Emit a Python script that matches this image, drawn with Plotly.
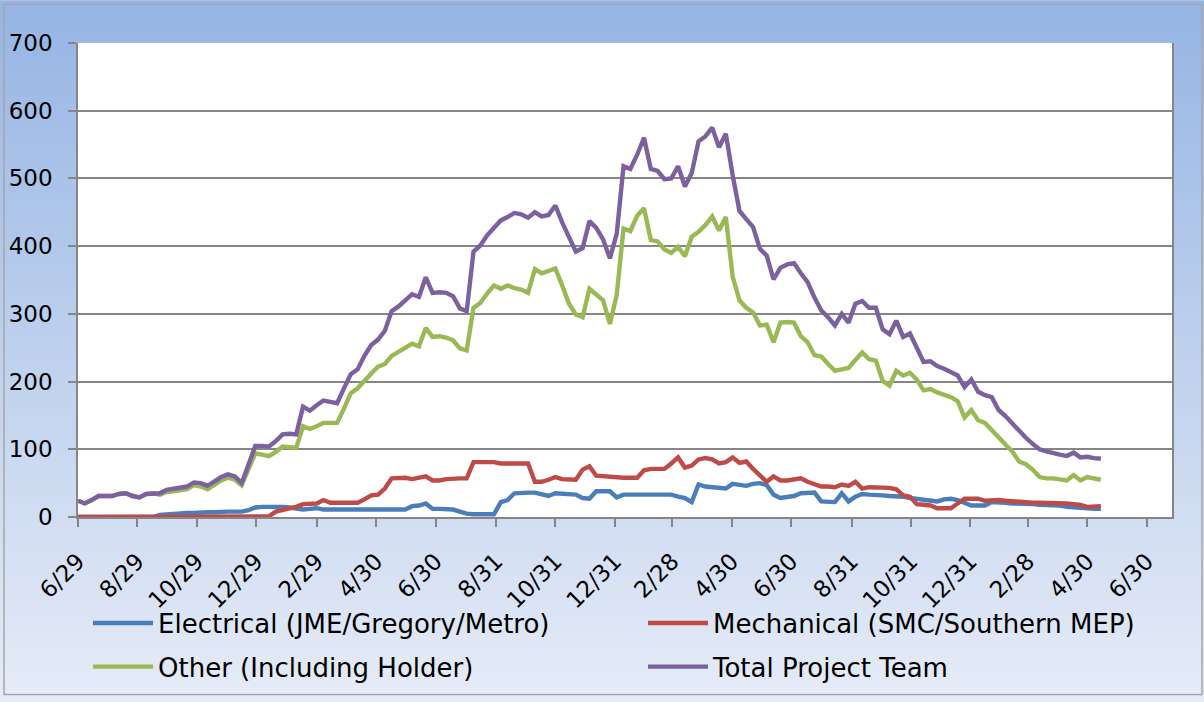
import plotly.graph_objects as go
import pandas as pd

# ---------------- data ----------------
start_date = "2011-06-29"
n_weeks = 151
weeks = pd.date_range(start_date, periods=n_weeks, freq="7D")

electrical = [0,0,0,0,0,0,0,0,0,0,0,0,3,4,5,5,6,6,7,7,
              7,8,8,8,8,10,14,15,15,16,15,14,12,11,12,13,11,11,11,11,
              11,11,11,11,11,11,11,11,11,16,17,20,12,12,11,11,8,5,4,4,
              4,4,22,25,35,36,36,36,33,31,35,34,33,33,28,27,38,38,38,29,
              33,33,33,33,33,33,33,33,30,28,22,48,45,44,43,42,49,48,46,49,
              50,47,33,28,29,31,35,36,36,23,22,22,35,23,30,34,33,33,32,31,
              31,30,28,27,26,25,23,26,27,25,21,17,17,17,22,22,21,20,20,19,
              19,18,18,17,17,15,14,13,12,12,12]

mechanical = [0,0,0,0,0,0,0,0,0,0,0,0,0,0,0,0,0,0,0,0,
              0,0,0,0,0,0,0,0,1,8,10,13,15,19,19,20,25,21,21,21,
              21,21,26,32,33,42,57,58,58,56,58,60,54,54,56,57,57,57,81,81,
              81,81,79,79,79,79,79,52,52,55,59,56,55,55,70,75,61,60,60,58,
              58,58,58,69,71,71,71,79,88,73,76,85,87,85,79,81,88,80,82,71,
              61,52,60,54,54,55,57,52,48,45,45,44,48,46,52,42,44,44,44,43,
              41,32,30,19,18,17,13,13,13,20,27,27,27,24,25,25,24,23,22,22,
              21,21,21,21,20,20,19,18,15,15,16]

other = [24,20,25,31,31,31,34,35,31,29,34,35,33,37,38,39,41,47,45,41,
         47,54,58,55,47,72,94,92,90,96,104,103,102,134,130,134,139,139,139,160,
         183,190,202,212,222,226,238,244,251,256,252,279,266,267,265,261,249,246,309,316,
         330,342,337,342,338,336,331,366,360,364,367,342,315,299,295,337,329,320,285,328,
         426,422,445,456,409,407,395,390,399,385,414,421,431,444,423,443,355,320,309,302,
         283,284,258,287,288,287,267,258,239,237,226,216,218,220,232,243,233,231,201,194,
         216,209,213,203,187,189,184,180,177,171,147,158,143,139,128,116,107,97,82,78,
         70,59,57,57,55,54,62,54,59,57,55]

total = [24,20,25,31,31,31,34,35,31,29,34,35,35,40,42,43,45,51,50,46,
         52,59,63,60,50,78,105,105,104,112,122,123,122,163,157,165,172,170,168,190,
         211,218,238,254,262,275,304,311,321,329,325,354,331,332,331,326,308,304,392,401,
         416,428,438,443,449,447,442,450,444,446,460,435,412,392,397,437,427,410,382,418,
         518,514,535,560,514,511,499,500,518,488,508,555,562,575,546,566,505,452,440,428,
         396,386,351,368,373,375,360,347,324,305,295,283,300,287,315,319,309,309,277,270,
         290,266,271,250,229,230,223,219,214,209,192,203,185,180,177,158,149,138,127,117,
         108,100,97,94,92,90,95,88,89,87,86]

series_names = ["Electrical (JME/Gregory/Metro)", "Mechanical (SMC/Southern MEP)",
                "Other (Including Holder)", "Total Project Team"]
series_values = [electrical, mechanical, other, total]
series_colors = ["#4A7EBB", "#BE4B48", "#98B954", "#7D60A0"]
series_legends = ["legend", "legend2", "legend3", "legend4"]

tick_dates = ["2011-06-29", "2011-08-29", "2011-10-29", "2011-12-29", "2012-02-29",
              "2012-04-30", "2012-06-30", "2012-08-31", "2012-10-31", "2012-12-31",
              "2013-02-28", "2013-04-30", "2013-06-30", "2013-08-31", "2013-10-31",
              "2013-12-31", "2014-02-28", "2014-04-30", "2014-06-30"]
tick_labels = ["6/29", "8/29", "10/29", "12/29", "2/29", "4/30", "6/30", "8/31", "10/31",
               "12/31", "2/28", "4/30", "6/30", "8/31", "10/31", "12/31", "2/28", "4/30", "6/30"]

# ---------------- figure ----------------
W, H = 1204, 702
ML, MR, MT, MB = 78, 32, 43, 181
PW, PH = W - ML - MR, H - MT - MB

fig = go.Figure()
for name, vals, col, lg in zip(series_names, series_values, series_colors, series_legends):
    fig.add_trace(go.Scatter(x=weeks, y=vals, name=name, mode="lines",
                             line=dict(color=col, width=4.4), legend=lg))

# background gradient (figure) + white plot area
x0p, x1p = -ML / PW, 1 + MR / PW
y0p, y1p = -MB / PH, 1 + MT / PH
top_rgb = (150, 181, 228)
bot_rgb = (229, 235, 247)
n_bands = 80
shapes = []
for k in range(n_bands):
    t = k / (n_bands - 1)
    c = tuple(round(top_rgb[j] + (bot_rgb[j] - top_rgb[j]) * t) for j in range(3))
    ya = y1p - (y1p - y0p) * k / n_bands
    yb = y1p - (y1p - y0p) * (k + 1) / n_bands
    shapes.append(dict(type="rect", xref="paper", yref="paper", x0=x0p, x1=x1p,
                       y0=yb - 0.002, y1=ya, fillcolor="rgb(%d,%d,%d)" % c,
                       line=dict(width=0), layer="below"))
shapes.append(dict(type="rect", xref="paper", yref="paper", x0=0, x1=1, y0=0, y1=1,
                   fillcolor="white", line=dict(width=0), layer="below"))
shapes.append(dict(type="rect", xref="paper", yref="paper",
                   x0=x0p + 4 / PW, x1=x1p - 2 / PW, y0=y0p + 2 / PH, y1=y1p - 4 / PH,
                   fillcolor="rgba(0,0,0,0)", line=dict(color="#A6A6A6", width=1.5),
                   layer="above"))

font_family = "DejaVu Sans"


def legend_at(px_x, px_y):
    return dict(orientation="h", x=(px_x - ML) / PW, xanchor="left",
                y=(MT + PH - px_y) / PH, yanchor="middle", itemwidth=60,
                bgcolor="rgba(0,0,0,0)", font=dict(size=26, family=font_family))


fig.update_layout(
    width=W, height=H,
    margin=dict(l=ML, r=MR, t=MT, b=MB, pad=0),
    paper_bgcolor="rgb(229,235,247)",
    plot_bgcolor="rgba(0,0,0,0)",
    font=dict(family=font_family, size=23, color="#000000"),
    shapes=shapes,
    showlegend=True,
    legend=legend_at(88, 628),
    legend2=legend_at(643, 628),
    legend3=legend_at(88, 672),
    legend4=legend_at(643, 672),
    xaxis=dict(type="date", range=["2011-06-29", "2014-07-26"],
               tickmode="array", tickvals=tick_dates, ticktext=tick_labels,
               autotickangles=[-45], ticklabelstandoff=12,
               ticks="outside", ticklen=8, tickwidth=1.5, tickcolor="#868686",
               showgrid=False, showline=True, linecolor="#868686", linewidth=1.5,
               zeroline=False, tickfont=dict(size=23), automargin=False),
    yaxis=dict(range=[0, 700], dtick=100, ticks="outside", ticklen=8, tickwidth=1.5,
               tickcolor="#868686", showgrid=True, gridcolor="#868686", gridwidth=1.5,
               showline=True, linecolor="#868686", linewidth=1.5, mirror=True,
               zeroline=False, tickfont=dict(size=23), ticklabelstandoff=11,
               automargin=False),
)

fig.write_html("out.html", config={"displayModeBar": False},
               post_script="document.body.style.margin='0';")
